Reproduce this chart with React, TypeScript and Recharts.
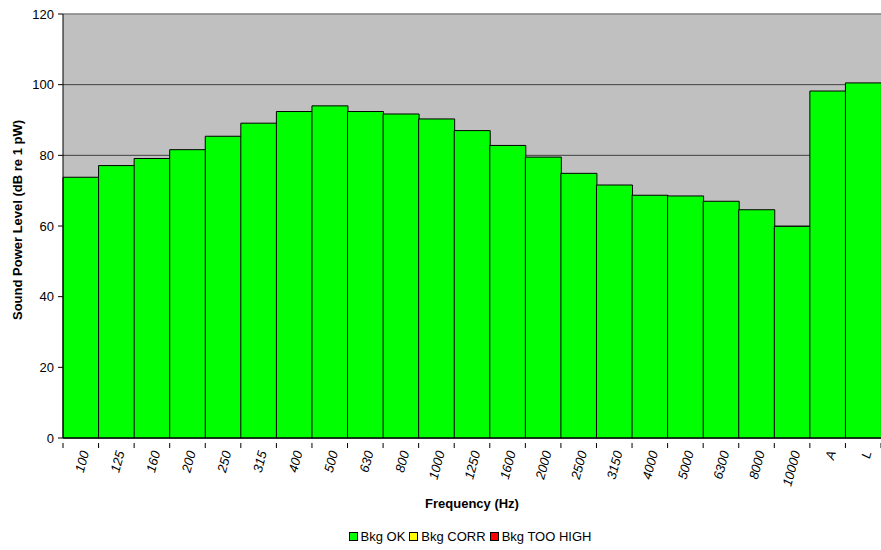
import {
  Bar,
  BarChart,
  CartesianGrid,
  Label,
  Legend,
  ReferenceLine,
  XAxis,
  YAxis,
} from "recharts";

const bands = [
  "100", "125", "160", "200", "250", "315", "400", "500", "630", "800",
  "1000", "1250", "1600", "2000", "2500", "3150", "4000", "5000", "6300",
  "8000", "10000", "A", "L",
];
const bkgOk = [
  73.8, 77.1, 79.1, 81.6, 85.4, 89.1, 92.4, 94.0, 92.4, 91.7, 90.3, 87.0,
  82.8, 79.5, 74.9, 71.6, 68.7, 68.5, 67.0, 64.6, 59.9, 98.2, 100.5,
];
const bkgCorr = bands.map(() => 0);
const bkgTooHigh = bands.map(() => 0);
const yTicks = [0, 20, 40, 60, 80, 100, 120];

const series = [
  { key: "ok", name: "Bkg OK", color: "#00FF00" },
  { key: "corr", name: "Bkg CORR", color: "#FFFF00" },
  { key: "high", name: "Bkg TOO HIGH", color: "#FF0000" },
];

const data = bands.map((band, i) => ({
  band,
  ok: bkgOk[i],
  corr: bkgCorr[i],
  high: bkgTooHigh[i],
}));

const FONT = "Arial, 'Liberation Sans', sans-serif";

// x ticks sit on the bar edges, labels on the bar centres
const FreqTick = ({ x, y, payload, index }: any) => {
  const half = payload.offset ?? 0;
  const tx = x + 4;
  const ty = y + 5;
  return (
    <g>
      <line x1={x - half} x2={x - half} y1={y - 3} y2={y + 2} stroke="#000" />
      {index === bands.length - 1 && (
        <line x1={x + half} x2={x + half} y1={y - 3} y2={y + 2} stroke="#000" />
      )}
      <text
        x={tx}
        y={ty}
        transform={`rotate(-75, ${tx}, ${ty})`}
        textAnchor="end"
        dy="0.35em"
        fontSize={13}
        fontStyle="italic"
        fontFamily={FONT}
        fill="#000"
      >
        {payload.value}
      </text>
    </g>
  );
};

const YTitle = ({ viewBox }: any) => {
  const cx = viewBox.x + 17;
  const cy = viewBox.y + viewBox.height / 2 - 6;
  return (
    <text
      x={cx}
      y={cy}
      transform={`rotate(-90, ${cx}, ${cy})`}
      textAnchor="middle"
      dominantBaseline="central"
      fontSize={13}
      fontWeight="bold"
      fontFamily={FONT}
      fill="#000"
    >
      Sound Power Level (dB re 1 pW)
    </text>
  );
};

const LegendBox = () => (
  <div
    style={{
      display: "flex",
      justifyContent: "center",
      paddingLeft: 63,
      paddingBottom: 4,
      boxSizing: "border-box",
      height: 24,
      alignItems: "center",
      fontFamily: FONT,
      fontSize: 13,
      color: "#000",
    }}
  >
    {series.map((s) => (
      <span
        key={s.key}
        style={{ display: "flex", alignItems: "center", marginRight: 4 }}
      >
        <span
          style={{
            width: 7,
            height: 7,
            background: s.color,
            border: "1px solid #000",
            marginRight: 3,
          }}
        />
        {s.name}
      </span>
    ))}
  </div>
);

export default function App() {
  return (
    <div style={{ position: "absolute", left: 0, top: 0 }}>
      <BarChart
        width={881}
        height={550}
        data={data}
        margin={{ top: 14, right: 0, bottom: 0, left: 0 }}
        barCategoryGap={0}
        barGap={0}
      >
        <CartesianGrid
          vertical={false}
          fill="#C0C0C0"
          stroke="#404040"
          fillOpacity={1}
        />
        <XAxis
          dataKey="band"
          height={88}
          interval={0}
          tickLine={false}
          axisLine={{ stroke: "#000" }}
          tick={<FreqTick />}
        >
          <Label
            value="Frequency (Hz)"
            position="insideBottom"
            offset={18}
            style={{ fontFamily: FONT, fontSize: 13, fontWeight: "bold", fill: "#000" }}
          />
        </XAxis>
        <YAxis
          width={63}
          domain={[0, 120]}
          ticks={yTicks}
          interval={0}
          tickSize={5}
          tickMargin={4}
          axisLine={{ stroke: "#000" }}
          tickLine={{ stroke: "#000" }}
          tick={{ fontFamily: FONT, fontSize: 13, fill: "#000" }}
        >
          <Label content={<YTitle />} />
        </YAxis>
        <ReferenceLine y={120} stroke="#A0A0A0" />
        {series.map((s) => (
          <Bar
            key={s.key}
            dataKey={s.key}
            name={s.name}
            stackId="bkg"
            fill={s.color}
            stroke="#000"
            strokeWidth={1}
            isAnimationActive={false}
          />
        ))}
        <Legend verticalAlign="bottom" content={<LegendBox />} />
      </BarChart>
    </div>
  );
}
